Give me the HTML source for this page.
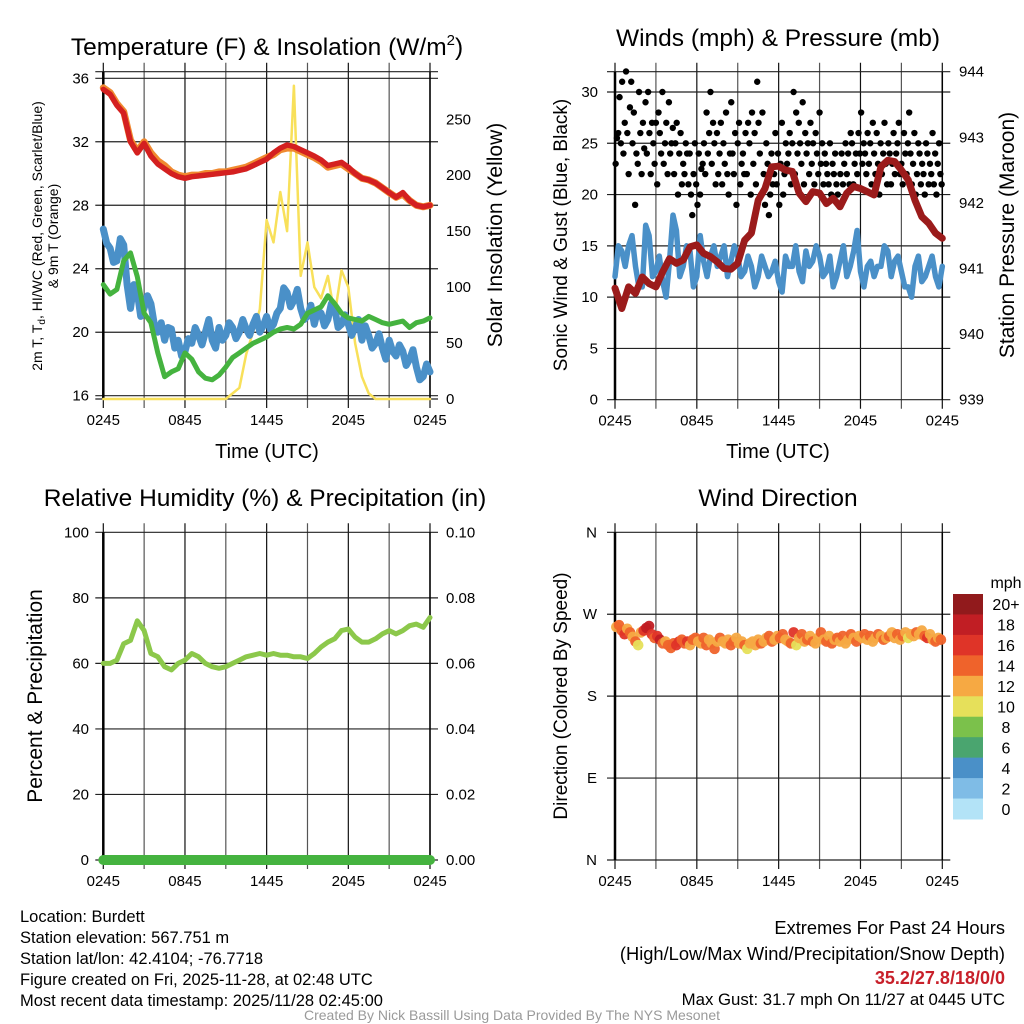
<!DOCTYPE html>
<html><head><meta charset="utf-8"><style>
body{margin:0;background:#fff;}
svg{display:block;font-family:"Liberation Sans",sans-serif;}
</style></head><body>
<svg id="s" width="1024" height="1024" viewBox="0 0 1024 1024">
<g id="g"></g>
<text x="267" y="55" font-size="24.5" text-anchor="middle">Temperature (F) &amp; Insolation (W/m<tspan font-size="15" dy="-10">2</tspan><tspan dy="10">)</tspan></text>
<text x="778" y="46" font-size="24.5" text-anchor="middle">Winds (mph) &amp; Pressure (mb)</text>
<text x="265" y="506" font-size="24.5" text-anchor="middle">Relative Humidity (%) &amp; Precipitation (in)</text>
<text x="778" y="506" font-size="24.5" text-anchor="middle">Wind Direction</text>
<text x="267" y="458" font-size="20" text-anchor="middle">Time (UTC)</text>
<text x="778" y="458" font-size="20" text-anchor="middle">Time (UTC)</text>
<text transform="translate(42,236) rotate(-90)" font-size="14" text-anchor="middle">2m T, T<tspan font-size="10" dy="3">d</tspan><tspan dy="-3">, HI/WC (Red, Green, Scarlet/Blue)</tspan></text>
<text transform="translate(58,236) rotate(-90)" font-size="14" text-anchor="middle">&amp; 9m T (Orange)</text>
<text transform="translate(502,235) rotate(-90)" font-size="21" text-anchor="middle">Solar Insolation (Yellow)</text>
<text transform="translate(567,235) rotate(-90)" font-size="19" text-anchor="middle">Sonic Wind &amp; Gust (Blue, Black)</text>
<text transform="translate(1014,235) rotate(-90)" font-size="21" text-anchor="middle">Station Pressure (Maroon)</text>
<text transform="translate(42,696) rotate(-90)" font-size="21" text-anchor="middle">Percent &amp; Precipitation</text>
<text transform="translate(567,696) rotate(-90)" font-size="19" text-anchor="middle">Direction (Colored By Speed)</text>
<g font-size="16.5">
<text x="20" y="922">Location: Burdett</text>
<text x="20" y="943">Station elevation: 567.751 m</text>
<text x="20" y="964">Station lat/lon: 42.4104; -76.7718</text>
<text x="20" y="985">Figure created on Fri, 2025-11-28, at 02:48 UTC</text>
<text x="20" y="1006">Most recent data timestamp: 2025/11/28 02:45:00</text>
</g>
<g text-anchor="end">
<text x="1005" y="934" font-size="18.3">Extremes For Past 24 Hours</text>
<text x="1005" y="960" font-size="18.3">(High/Low/Max Wind/Precipitation/Snow Depth)</text>
<text x="1005" y="984" font-size="18" font-weight="bold" fill="#c8202a">35.2/27.8/18/0/0</text>
<text x="1005" y="1005" font-size="16.8">Max Gust: 31.7 mph On 11/27 at 0445 UTC</text>
</g>
<text x="512" y="1020" font-size="14" fill="#9a9a9a" text-anchor="middle">Created By Nick Bassill Using Data Provided By The NYS Mesonet</text>
</svg>
<script>
const xLabels=["0245","0845","1445","2045","0245"];
const tempTicks=[16,20,24,28,32,36];
const solarTicks=[0,50,100,150,200,250];
const windTicks=[0,5,10,15,20,25,30];
const presTicks=[939,940,941,942,943,944];
const rhTicks=[0,20,40,60,80,100];
const precipTicks=["0.00","0.02","0.04","0.06","0.08","0.10"];
const dirTicks=["N","E","S","W","N"];
const temp2m=[35.3,35.0,34.3,33.8,32.0,31.3,31.9,31.1,30.6,30.3,30.0,29.8,29.7,29.8,29.85,29.9,29.95,30.0,30.05,30.1,30.2,30.3,30.5,30.7,30.9,31.3,31.6,31.8,31.7,31.5,31.3,31.1,30.85,30.5,30.6,30.7,30.4,30.0,29.7,29.6,29.4,29.1,28.8,28.5,28.8,28.3,28.0,27.9,28.0];
const temp9m=[35.4,35.1,34.4,33.9,32.1,31.4,32.0,31.3,30.8,30.5,30.1,29.9,29.8,29.9,29.9,30.0,30.0,30.1,30.1,30.2,30.3,30.4,30.6,30.8,31.0,31.2,31.5,31.6,31.6,31.4,31.2,31.0,30.75,30.4,30.5,30.6,30.3,30.0,29.7,29.6,29.4,29.1,28.8,28.5,28.7,28.3,28.0,27.9,28.0];
const dewpt=[23.0,22.4,22.7,24.5,25.0,23.5,21.2,20.6,18.7,17.2,17.5,17.7,18.7,18.3,17.5,17.1,17.0,17.3,17.8,18.4,18.7,19.0,19.3,19.5,19.7,20.0,20.2,20.3,20.2,20.5,21.2,21.4,21.6,22.3,21.8,21.2,20.9,20.8,20.7,21.0,20.8,20.6,20.5,20.6,20.7,20.3,20.6,20.7,20.9];
const windChill=[26.5,25.6,25.3,24.4,24.5,25.9,25.5,23.0,21.5,23.0,22.5,21.0,21.5,22.3,21.8,20.5,20.0,20.6,19.5,20.3,20.2,19.0,19.5,18.5,18.8,19.6,19.3,20.3,19.8,19.2,20.0,20.8,19.5,19.0,20.3,19.5,19.8,20.6,20.3,19.6,20.0,20.8,20.2,19.8,20.5,21.0,20.0,20.4,21.0,20.2,20.5,21.2,21.5,22.8,22.5,21.6,22.0,22.7,21.5,20.8,21.0,21.7,20.5,21.4,21.2,20.4,20.8,21.8,21.5,20.3,20.5,21.1,20.5,19.8,20.3,20.8,19.5,20.4,19.8,19.0,19.3,19.9,19.0,18.3,19.5,18.8,18.5,19.2,18.8,17.9,18.3,18.9,17.8,17.0,17.2,18.0,17.5];
const solar=[0,0,0,0,0,0,0,0,0,0,0,0,0,0,0,0,0,0,0,5,10,40,60,80,160,140,185,150,280,110,140,100,90,110,75,115,100,50,20,5,0,0,0,0,0,0,0,0,0];
const windSpd=[12,15,14.5,13,15,16,13,11,11,17,16,12,12.5,14,11.5,10,13.5,18,16.5,12,13,15,14.5,11,12,16,13.5,12,14,15,13,14,15,12,13.5,15,14,12,12.5,14,13,11,12,14,13,12,12.5,13.5,11.5,10.5,14,13,13,15,12.5,11.5,14.5,13,13.5,15,14,12,12.5,14,11,12,13.5,15,12,13,14.5,16.5,12.5,11,13,13.5,12,13,13,15,14.5,12,13.5,14,12.5,11,11,10,13,14,11.5,12,13,14,12,11,13];
const pressure=[940.70,940.39,940.72,940.62,940.87,940.77,940.72,940.95,941.15,941.08,941.13,941.33,941.36,941.23,941.18,941.10,941.00,940.99,941.08,941.43,941.54,942.04,942.22,942.55,942.56,942.50,942.48,942.15,942.02,942.17,942.15,941.99,942.07,941.94,942.15,942.25,942.22,942.17,942.12,942.55,942.65,942.63,942.50,942.35,942.04,941.79,941.69,941.54,941.46];
const gusts=[23,25.5,26,29.5,25,31,24,27,32,26,22,28.5,31,25,28,19,24,23,30,26,22,27,24.5,29,24,30,26,22,27,25,23,27,21,28,26,24,30,23,25,27,22,29,24,25,26.5,22,25,27,20,24,26,21,23,22,25,24,21,24,20,18,22,25,21,19,24,20,22.5,23,25,22,28,24,26,30,23,27,25,21,26,22,24,27,21,25,23,28,22,20,24,29,24,22,26,19,25,27,21,23,24,22,26,22,27,25,20,28,23,26,21,31,27,24,20,28,22,19,25,23,18,20,24,21,22,26,21,24,19,23,27,20,22,25,
23,24,26,21,25,30,22,28,24,27,25,23,29,21,26,24,25,22,27,23,25,21,26,24,22,28,23,25,21,24,23,22,21,25,20,23,22,24,21,20,19,22,24,21,23,25,22,24,21,26,25,21,23,24,22,26,24,28,23,25,24,22,26,23,25,21,27,24,22,26,23,20,25,22,24,27,23,21,25,24,21,23,26,22,24,25,27,22,23,21,26,24,22,25,28,24,21,23,26,20,22,25,24,21,23,22,20,25,24,21,23,22,26,21,24,20,23,25,22,21];
const rh=[60,60,61,66,67,73,70,63,62,59,58,60,61,63,62,60,59,58.5,59,60,61,62,62.5,63,62.5,63,62.5,62.5,62,62,61.5,63,65,66.5,67.5,70,70.5,68,66.5,66.5,67.5,69,70,69,70,71.5,72,71,74];
const precip=[0,0,0,0,0,0,0,0,0,0,0,0,0,0,0,0,0,0,0,0,0,0,0,0,0];
const windDir=[256,258,252,248,254,250,245,240,236,250,252,255,257,248,244,246,242,238,240,236,233,238,236,240,242,238,240,236,242,244,240,238,244,236,242,238,232,240,244,240,238,242,236,240,244,238,240,236,232,238,240,236,242,238,240,244,246,240,242,246,244,248,242,240,238,250,236,244,248,240,242,246,240,238,244,250,242,240,246,238,242,244,240,246,238,242,248,244,240,246,244,248,242,246,240,244,248,246,242,244,246,250,244,248,242,246,250,244,248,246,250,248,252,246,244,248,242,240,244,242];
const dirSpeed=[12,15,14,16,13,15,12,14,11,13,17,18,19,16,14,16,18,14,12,15,14,15,16,17,15,14,16,13,15,14,12,13,15,14,12,13,14,12,15,13,13,12,14,15,12,13,12,14,11,12,12,13,12,14,12,13,15,14,12,13,14,15,13,12,14,16,11,13,15,12,14,12,15,13,12,14,13,15,12,14,13,15,12,14,12,13,15,12,14,13,12,14,13,15,12,13,14,12,15,13,14,12,13,15,12,14,13,11,13,12,15,13,12,14,16,13,12,14,13,15];
const cbLabels=["20+","18","16","14","12","10","8","6","4","2","0"];
const cbColors=["#911a1c","#c11e24","#df3428","#ef632b","#f6a943","#e6e05a","#7bc14b","#4aa56f","#4a90c8","#7fbce6","#b3e3f7"];

const NS="http://www.w3.org/2000/svg";
const G=document.getElementById('g');
function mk(tag,attrs,parent){const e=document.createElementNS(NS,tag);for(const k in attrs)e.setAttribute(k,attrs[k]);(parent||G).appendChild(e);return e;}
function lin(d0,d1,r0,r1){return v=>r0+(v-d0)*(r1-r0)/(d1-d0);}
function path(vals,sx,sy){return vals.map((v,i)=>(i?'L':'M')+sx(i*24/(vals.length-1)).toFixed(1)+','+sy(v).toFixed(1)).join('');}

function frame(x0,x1,y0,y1,yTicksPix,name){
  const g=mk('g',{});
  
  
  for(let i=0;i<=8;i++){const x=x0+(x1-x0)*i/8;
    const l=mk('line',{x1:x,x2:x,y1:y0-9,y2:y1+9,stroke:i%2?'#555':'#111','stroke-width':1.2},g);
    
    }
  yTicksPix.forEach(y=>{const l=mk('line',{x1:x0-8,x2:x1+8,y1:y,y2:y,stroke:'#222','stroke-width':1.2},g);
    
    });
  mk('line',{x1:x0,x2:x0,y1:y0,y2:y1,stroke:'#000','stroke-width':2.5},g);
  mk('line',{x1:x1,x2:x1,y1:y0,y2:y1,stroke:'#000','stroke-width':1.5},g);
  xLabels.forEach((t,i)=>{const tx=mk('text',{x:x0+(x1-x0)*i/4,y:y1+26,'font-size':15,'text-anchor':'middle'},g);tx.textContent=t;
    
    });
}
function labelsLeft(vals,sy,x,name){vals.forEach(v=>{const t=mk('text',{x:x,y:sy(+v)+5,'font-size':15,'text-anchor':'end'});t.textContent=v;
  
  });}
function labelsRight(vals,ys,x,name){vals.forEach((v,i)=>{const t=mk('text',{x:x,y:ys[i]+5,'font-size':15,'text-anchor':'start'});t.textContent=v;
  
  });}
function series(d,color,w,name){const p=mk('path',{d:d,fill:'none',stroke:color,'stroke-width':w,'stroke-linejoin':'round','stroke-linecap':'round'});
  
  return p;}

// Panel 1
{const x0=103.3,x1=430,sx=lin(0,24,x0,x1),sy=lin(16,36,395.7,78.3),ss=lin(0,250,399,119.3);
 frame(x0,x1,71.7,399,[71.7,...tempTicks.map(sy),399],'temp');
 labelsLeft(tempTicks,sy,89,'temp-tick-label');
 labelsRight(solarTicks,solarTicks.map(ss),446,'solar-tick-label');
 series(path(solar,sx,ss),'#f8e05a',2.5,'solar-line');
 series(path(windChill,sx,sy),'#4a90c8',7,'windchill-line');
 series(path(dewpt,sx,sy),'#45b33f',5,'dewpoint-line');
 series(path(temp9m,sx,sy),'#f08a30',7,'temp-9m-line');
 series(path(temp2m,sx,sy),'#d42020',5.5,'temp-2m-line');}
// Panel 2
{const x0=615,x1=942.3,sx=lin(0,24,x0,x1),sy=lin(0,30,399.7,92),sp=lin(939,944,399.7,71.7);
 frame(x0,x1,71.7,399.7,[71.7,...windTicks.map(sy)],'wind');
 labelsLeft(windTicks,sy,598,'wind-tick-label');
 labelsRight(presTicks,presTicks.map(sp),959,'pressure-tick-label');
 series(path(windSpd,sx,sy),'#4a90c8',5.5,'wind-speed-line');
 gusts.forEach((v,i)=>{const c=mk('circle',{cx:sx((i+0.5)*24/gusts.length),cy:sy(v),r:3.2,fill:'#000'});
   
   });
 series(path(pressure,sx,sp),'#9b1b1b',7,'pressure-line');}
// Panel 3
{const x0=103.3,x1=430,sx=lin(0,24,x0,x1),sy=lin(0,100,860,532.3);
 frame(x0,x1,532.3,860,rhTicks.map(sy),'rh');
 labelsLeft(rhTicks,sy,89,'rh-tick-label');
 labelsRight(precipTicks,rhTicks.map(sy),446,'precip-tick-label');
 series(path(rh,sx,sy),'#8cc84b',5,'rh-line');
 series(path(precip,sx,v=>sy(v*1000)),'#45b33f',10,'precip-line');}
// Panel 4
{const x0=615,x1=942.3,sx=lin(0,24,x0,x1),sy=lin(0,360,860,532.3);
 frame(x0,x1,532.3,860,[0,90,180,270,360].map(sy),'dir');
 dirTicks.forEach((t,i)=>{const e=mk('text',{x:597,y:sy(i*90)+5,'font-size':15,'text-anchor':'end'});e.textContent=t;
   
   });
 windDir.forEach((d,i)=>{const b=Math.min(10,Math.floor(dirSpeed[i]/2));
   const c=mk('circle',{cx:sx((i+0.5)*24/windDir.length),cy:sy(d),r:5.3,fill:cbColors[10-b],opacity:0.95});
   
   });
 const cb=mk('g',{});
 
 
 const h=(819-594)/11;
 cbColors.forEach((c,i)=>{mk('rect',{x:953,y:594+i*h,width:30,height:h+0.5,fill:c},cb);
   const t=mk('text',{x:1006,y:594+i*h+h/2+6,'font-size':16,'text-anchor':'middle'},cb);t.textContent=cbLabels[i];});
 const m=mk('text',{x:1006,y:588,'font-size':16,'text-anchor':'middle'},cb);m.textContent='mph';}
</script>
</body></html>
